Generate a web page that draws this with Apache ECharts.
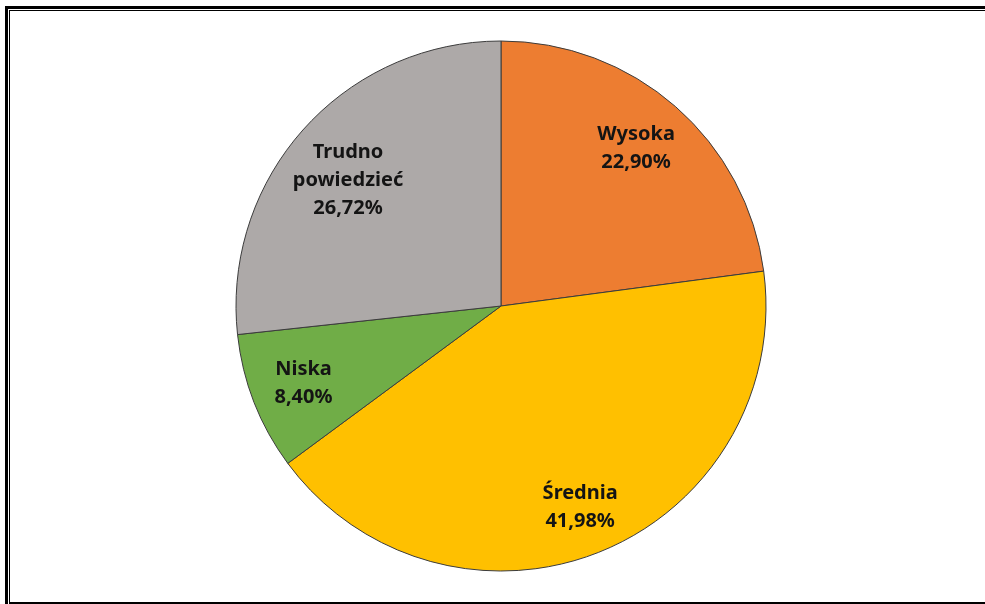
<!DOCTYPE html>
<html>
<head>
<meta charset="utf-8">
<script src="https://cdn.jsdelivr.net/npm/echarts@6/dist/echarts.min.js"></script>
<style>
html,body{margin:0;padding:0;background:#fff;}
#chart{width:985px;height:604px;}
</style>
</head>
<body>
<div id="chart"></div>
<script>
// Data
var categories = ['Wysoka', 'Średnia', 'Niska', 'Trudno\npowiedzieć'];
var values = [22.90, 41.98, 8.40, 26.72];
var colors = ['#ED7D31', '#FFC000', '#70AD47', '#ADA9A8'];
// label placement (angle clockwise from top in degrees, distance in px from centre)
var labelPolar = [[40.5, 208], [158.5, 216], [248.7, 212], [309.4, 198]];

var CX = 501, CY = 306, R = 265;

var chart = echarts.init(document.getElementById('chart'), null, {renderer: 'canvas'});
var data = categories.map(function (c, i) {
  return {name: c, value: values[i], itemStyle: {color: colors[i]}};
});

chart.setOption({
  animation: false,
  backgroundColor: '#ffffff',
  graphic: [
    {type: 'rect', shape: {x: 5, y: 6, width: 990, height: 3}, style: {fill: '#000'}},
    {type: 'rect', shape: {x: 5, y: 6, width: 3, height: 600}, style: {fill: '#000'}},
    {type: 'rect', shape: {x: 9, y: 10, width: 990, height: 1}, style: {fill: '#000'}},
    {type: 'rect', shape: {x: 9, y: 10, width: 1, height: 594}, style: {fill: '#000'}},
    {type: 'rect', shape: {x: 9, y: 602, width: 990, height: 2}, style: {fill: '#000'}}
  ],
  series: [{
    type: 'pie',
    center: [CX, CY],
    radius: [0, R],
    startAngle: 90,
    clockwise: true,
    data: data,
    itemStyle: {borderColor: '#3c3c3c', borderWidth: 1},
    emphasis: {disabled: true},
    label: {
      show: true,
      position: 'inside',
      fontFamily: 'Noto Sans',
      fontWeight: 'bold',
      fontSize: 20,
      lineHeight: 28,
      color: '#141414',
      align: 'center',
      formatter: function (p) {
        return p.name + '\n' + p.value.toFixed(2).replace('.', ',') + '%';
      }
    },
    labelLine: {show: false},
    labelLayout: function (params) {
      var lp = labelPolar[params.dataIndex];
      var a = lp[0] * Math.PI / 180;
      return {
        x: CX + lp[1] * Math.sin(a),
        y: CY - lp[1] * Math.cos(a),
        align: 'center',
        verticalAlign: 'middle'
      };
    }
  }]
});
</script>
</body>
</html>
